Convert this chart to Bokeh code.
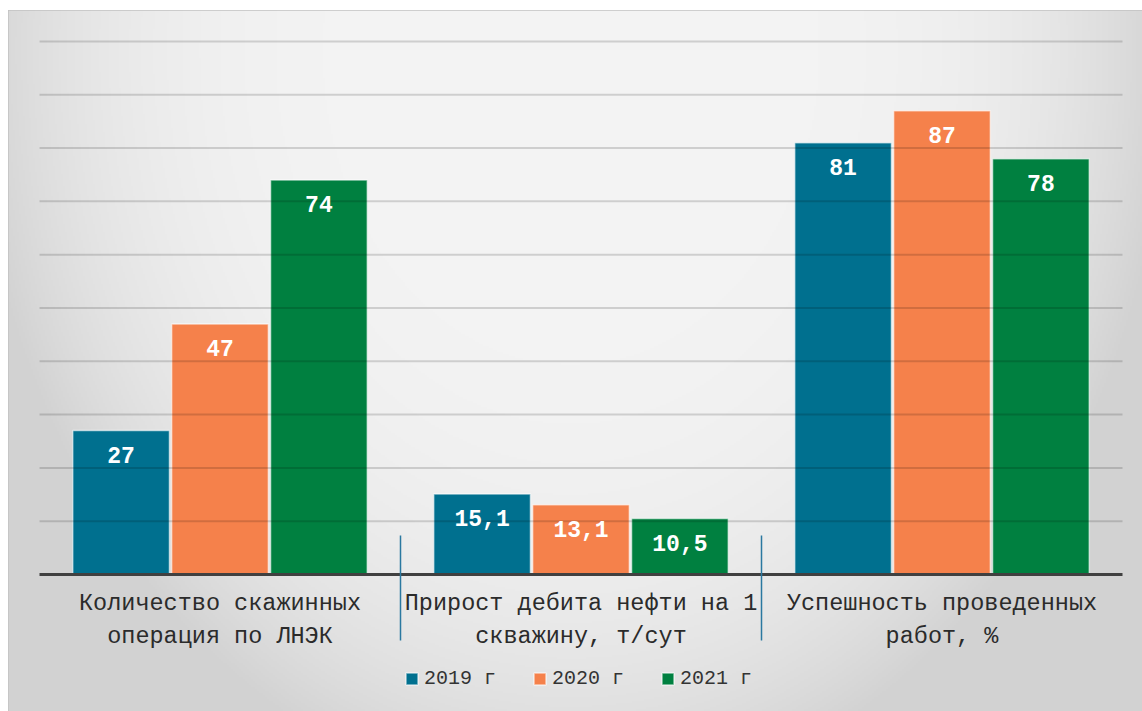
import numpy as np
from bokeh.plotting import figure
from bokeh.models import Range1d, FixedTicker, ColumnDataSource, LabelSet, Legend, LegendItem
from bokeh.transform import dodge
from bokeh.core.properties import value
from bokeh.embed import file_html
from bokeh.resources import INLINE

# ---- data ----
categories = [
    "Количество скажинных\nоперация по ЛНЭК",
    "Прирост дебита нефти на 1\nскважину, т/сут",
    "Успешность проведенных\nработ, %",
]
series_names = ["2019 г", "2020 г", "2021 г"]
values_2019 = [27, 15.1, 81]
values_2020 = [47, 13.1, 87]
values_2021 = [74, 10.5, 78]
grid_ticks = [10, 20, 30, 40, 50, 60, 70, 80, 90, 100]
colors = ["#00708f", "#f5814b", "#008040"]

# ---- geometry of the figure ----
W, H = 1134, 701
x0, x1 = -0.0859, 3.0554
y0, y1 = -25.7, 105.8

p = figure(width=W, height=H, x_range=Range1d(x0, x1), y_range=Range1d(y0, y1),
           output_backend="svg", toolbar_location=None, min_border=0)
p.margin = (10, 0, 0, 8)
p.background_fill_color = "#e6e6e6"
p.border_fill_color = "#e6e6e6"
p.outline_line_color = "#c2c2c2"
p.outline_line_width = 2

# background radial gradient
step = 2
ys = np.arange(0, H, step) + 0.5
xs = np.arange(0, W, step) + 0.5
X, Y = np.meshgrid(xs, ys)
page_x = X + 8
page_y = 10 + (H - Y)
d = np.sqrt(((page_x - 570) / 600) ** 2 + ((page_y - 50) / 760) ** 2)
c = np.maximum(244 - 34 * d ** 4, 210).astype(np.uint8)
img = np.empty(c.shape, dtype=np.uint32)
view = img.view(dtype=np.uint8).reshape(c.shape + (4,))
view[..., 0] = c
view[..., 1] = c
view[..., 2] = c
view[..., 3] = 255
p.image_rgba(image=[img], x=x0, y=y0, dw=x1 - x0, dh=y1 - y0)

p.xgrid.visible = False
p.ygrid.visible = False
p.yaxis.visible = False

src = ColumnDataSource(dict(
    x=[0.5, 1.5, 2.5],
    v2019=values_2019, v2020=values_2020, v2021=values_2021,
    l2019=[f"{v:g}".replace(".", ",") for v in values_2019],
    l2020=[f"{v:g}".replace(".", ",") for v in values_2020],
    l2021=[f"{v:g}".replace(".", ",") for v in values_2021],
))

offsets = [-0.274, 0.0, 0.274]
keys = ["2019", "2020", "2021"]
renderers = []
for k, off, col in zip(keys, offsets, colors):
    r = p.vbar(x=dodge("x", off, range=p.x_range), top="v" + k, width=0.268, bottom=0,
               source=src, fill_color=col, line_color="white", line_alpha=0.6, line_width=1.5)
    renderers.append(r)

# grid lines (drawn faintly over the bars)
p.segment(x0=[0] * len(grid_ticks), x1=[3] * len(grid_ticks), y0=grid_ticks, y1=grid_ticks,
          line_color="black", line_alpha=0.15, line_width=2)

for k, off in zip(keys, offsets):
    labels = LabelSet(x=dodge("x", off, range=p.x_range), y="v" + k, text="l" + k, source=src,
                      y_offset=-24, text_align="center", text_baseline="middle",
                      text_color="white", text_font=value("Liberation Mono"),
                      text_font_style="bold", text_font_size="23px")
    p.add_layout(labels)

# x axis
ax = p.xaxis[0]
ax.fixed_location = 0
ax.bounds = (0, 3)
ax.ticker = FixedTicker(ticks=[0.5, 1.5, 2.5], minor_ticks=[1, 2])
ax.major_label_overrides = {0.5: categories[0], 1.5: categories[1], 2.5: categories[2]}
ax.axis_line_color = "#404040"
ax.axis_line_width = 3
ax.major_tick_line_color = None
ax.major_tick_in = 0
ax.major_tick_out = 0
ax.minor_tick_line_color = "#2a78a0"
ax.minor_tick_line_width = 1.5
ax.minor_tick_in = 39
ax.minor_tick_out = 66
ax.major_label_standoff = -50
ax.major_label_text_font = "Liberation Mono"
ax.major_label_text_font_size = "23.5px"
ax.major_label_text_color = "#2b2b2b"

legend = Legend(items=[LegendItem(label=n, renderers=[r]) for n, r in zip(series_names, renderers)],
                orientation="horizontal", location=(396, 21))
legend.background_fill_alpha = 0
legend.border_line_alpha = 0
legend.padding = 0
legend.margin = 0
legend.glyph_width = 15
legend.glyph_height = 15
legend.label_standoff = 5
legend.spacing = 36
legend.label_height = 20
legend.label_text_font = "Liberation Mono"
legend.label_text_font_size = "20px"
legend.label_text_color = "#333333"
p.add_layout(legend)

open("out.html", "w").write(file_html(p, INLINE))
